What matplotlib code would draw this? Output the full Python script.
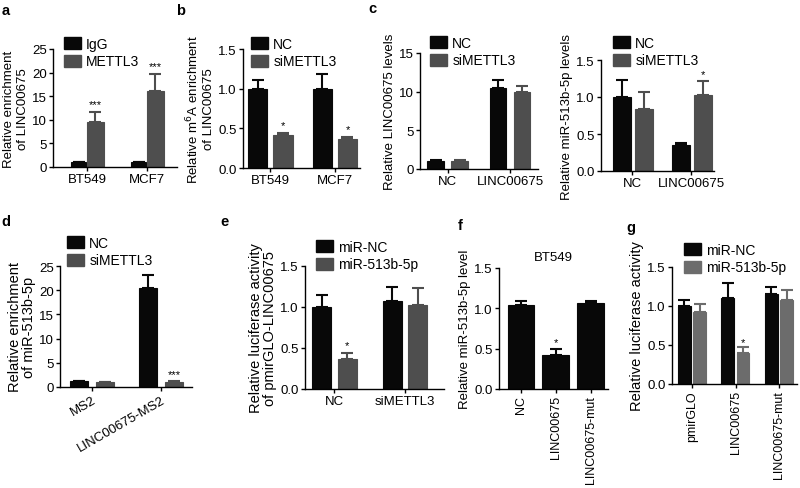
import numpy as np
import matplotlib.pyplot as plt

plt.rcParams['font.family'] = ['Liberation Sans', 'DejaVu Sans']

W, H = 800, 489
BLACK = '#080808'
GRAY = '#4e4e4e'
LGRAY = '#6c6c6c'

# ---------------- data ----------------
a_groups = ['BT549', 'MCF7']
a_igg = [1.0, 1.05]
a_igg_err = [0.1, 0.1]
a_mettl3 = [9.6, 16.2]
a_mettl3_err = [2.0, 3.5]

b_groups = ['BT549', 'MCF7']
b_nc = [1.0, 1.0]
b_nc_err = [0.11, 0.18]
b_si = [0.41, 0.36]
b_si_err = [0.03, 0.03]

c1_groups = ['NC', 'LINC00675']
c1_nc = [1.0, 10.5]
c1_nc_err = [0.15, 1.0]
c1_si = [1.05, 9.9]
c1_si_err = [0.05, 0.8]

c2_groups = ['NC', 'LINC00675']
c2_nc = [1.0, 0.35]
c2_nc_err = [0.23, 0.03]
c2_si = [0.84, 1.03]
c2_si_err = [0.23, 0.18]

d_groups = ['MS2', 'LINC00675-MS2']
d_nc = [1.2, 20.4]
d_nc_err = [0.08, 2.7]
d_si = [1.0, 1.1]
d_si_err = [0.05, 0.1]

e_groups = ['NC', 'siMETTL3']
e_minc = [1.0, 1.07]
e_minc_err = [0.15, 0.18]
e_mir = [0.37, 1.02]
e_mir_err = [0.07, 0.21]

f_groups = ['NC', 'LINC00675', 'LINC00675-mut']
f_vals = [1.04, 0.42, 1.07]
f_err = [0.05, 0.08, 0.02]

g_groups = ['pmirGLO', 'LINC00675', 'LINC00675-mut']
g_minc = [1.0, 1.1, 1.15]
g_minc_err = [0.08, 0.2, 0.1]
g_mir = [0.92, 0.4, 1.08]
g_mir_err = [0.1, 0.07, 0.12]

fig = plt.figure(figsize=(W / 100, H / 100), dpi=100)


def make_ax(l, r, t, b, ylim, yticks, xlim):
    ax = fig.add_axes([l / W, 1 - b / H, (r - l) / W, (b - t) / H])
    ax.set_ylim(*ylim)
    ax.set_yticks(yticks)
    ax.set_xlim(*xlim)
    for s in ['top', 'right']:
        ax.spines[s].set_visible(False)
    for s in ['left', 'bottom']:
        ax.spines[s].set_linewidth(1.0)
    ax.tick_params(direction='out', length=3, width=1.0, labelsize=9.5, pad=1.5)
    return ax


def bars(ax, x, vals, errs, color, width):
    ax.bar(x, vals, width=width, color=color, edgecolor=color, linewidth=0.8)
    ax.errorbar(x, vals, yerr=[np.zeros(len(vals)), errs], fmt='none',
                ecolor=color, elinewidth=1.5, capsize=4, capthick=1.5)


def stars(ax, x, top, text, dy):
    ax.text(x, top + dy, text, ha='center', va='bottom', fontsize=8)


def legend(ax, labels, colors, px, py, fs=10):
    handles = [plt.Rectangle((0, 0), 1, 1, color=c) for c in colors]
    ax.legend(handles, labels, loc='upper left', bbox_to_anchor=(px / W, 1 - py / H),
              bbox_transform=fig.transFigure, frameon=False, fontsize=fs,
              borderpad=0, borderaxespad=0, handlelength=1.2, handleheight=1.0,
              handletextpad=0.4, labelspacing=0.25)


def panel_label(s, px, py):
    fig.text(px / W, 1 - py / H, s, fontsize=10.5, fontweight='bold', ha='center', va='center')


# ---------------- a ----------------
ax = make_ax(53, 177, 50, 168, (0, 25), [0, 5, 10, 15, 20, 25], (-0.567, 1.5))
x = np.arange(2)
bars(ax, x - 0.14, a_igg, a_igg_err, BLACK, 0.25)
bars(ax, x + 0.14, a_mettl3, a_mettl3_err, GRAY, 0.28)
for i in range(2):
    stars(ax, x[i] + 0.14, a_mettl3[i] + a_mettl3_err[i], '***', 0.6)
ax.set_xticks(x)
ax.set_xticklabels(a_groups)
ax.set_ylabel('Relative enrichment\nof LINC00675', fontsize=9.5, labelpad=2, linespacing=1.2)
legend(ax, ['IgG', 'METTL3'], [BLACK, GRAY], 64, 38, fs=10)

# ---------------- b ----------------
ax = make_ax(243, 360, 50, 169, (0, 1.5), [0.0, 0.5, 1.0, 1.5], (-0.426, 1.388))
ax.set_yticklabels(['0.0', '0.5', '1.0', '1.5'])
x = np.arange(2)
bars(ax, x - 0.194, b_nc, b_nc_err, BLACK, 0.295)
bars(ax, x + 0.194, b_si, b_si_err, GRAY, 0.295)
for i in range(2):
    stars(ax, x[i] + 0.194, b_si[i] + b_si_err[i], '*', 0.04)
ax.set_xticks(x)
ax.set_xticklabels(b_groups)
ax.set_ylabel('Relative m$^6$A enrichment\nof LINC00675', fontsize=9.5, labelpad=2, linespacing=1.2)
legend(ax, ['NC', 'siMETTL3'], [BLACK, GRAY], 251, 38)

# ---------------- c left ----------------
ax = make_ax(420, 538, 54, 170, (0, 15), [0, 5, 10, 15], (-0.44, 1.448))
x = np.arange(2)
bars(ax, x - 0.192, c1_nc, c1_nc_err, BLACK, 0.27)
bars(ax, x + 0.192, c1_si, c1_si_err, GRAY, 0.27)
ax.set_xticks(x)
ax.set_xticklabels(c1_groups)
ax.set_ylabel('Relative LINC00675 levels', fontsize=9.5, labelpad=2)
legend(ax, ['NC', 'siMETTL3'], [BLACK, GRAY], 430, 37)

# ---------------- c right ----------------
ax = make_ax(601, 714, 61, 172, (0, 1.5), [0.0, 0.5, 1.0, 1.5], (-0.525, 1.39))
ax.set_yticklabels(['0.0', '0.5', '1.0', '1.5'])
x = np.arange(2)
bars(ax, x - 0.17, c2_nc, c2_nc_err, BLACK, 0.3)
bars(ax, x + 0.2, c2_si, c2_si_err, GRAY, 0.3)
stars(ax, x[1] + 0.2, c2_si[1] + c2_si_err[1], '*', 0.03)
ax.set_xticks(x)
ax.set_xticklabels(c2_groups)
ax.set_ylabel('Relative miR-513b-5p levels', fontsize=9.5, labelpad=2)
legend(ax, ['NC', 'siMETTL3'], [BLACK, GRAY], 613, 37)

# ---------------- d ----------------
ax = make_ax(60, 192, 267, 388, (0, 25), [0, 5, 10, 15, 20, 25], (-0.46, 1.44))
x = np.arange(2)
bars(ax, x - 0.187, d_nc, d_nc_err, BLACK, 0.26)
bars(ax, x + 0.187, d_si, d_si_err, GRAY, 0.26)
stars(ax, x[1] + 0.187, d_si[1] + d_si_err[1], '***', 0.4)
ax.set_xticks(x)
ax.set_xticklabels(d_groups, rotation=30, ha='right', rotation_mode='anchor')
ax.set_ylabel('Relative enrichment\nof miR-513b-5p', fontsize=10.5, labelpad=2, linespacing=1.0)
legend(ax, ['NC', 'siMETTL3'], [BLACK, GRAY], 67, 237)

# ---------------- e ----------------
ax = make_ax(305, 444, 267, 390, (0, 1.5), [0.0, 0.5, 1.0, 1.5], (-0.418, 1.553))
ax.set_yticklabels(['0.0', '0.5', '1.0', '1.5'])
x = np.arange(2)
bars(ax, x - 0.184, e_minc, e_minc_err, BLACK, 0.27)
bars(ax, x + 0.184, e_mir, e_mir_err, GRAY, 0.27)
stars(ax, x[0] + 0.184, e_mir[0] + e_mir_err[0], '*', 0.03)
ax.set_xticks(x)
ax.set_xticklabels(e_groups)
ax.set_ylabel('Relative luciferase activity\nof pmirGLO-LINC00675', fontsize=10.5, labelpad=2, linespacing=1.0)
legend(ax, ['miR-NC', 'miR-513b-5p'], [BLACK, GRAY], 316, 241)

# ---------------- f ----------------
ax = make_ax(499, 608, 269, 390, (0, 1.5), [0.0, 0.5, 1.0, 1.5], (-0.63, 2.49))
ax.set_yticklabels(['0.0', '0.5', '1.0', '1.5'])
x = np.arange(3)
bars(ax, x, f_vals, f_err, BLACK, 0.77)
stars(ax, x[1], f_vals[1] + f_err[1], '*', 0.02)
ax.set_xticks(x)
ax.set_xticklabels(f_groups, rotation=90)
ax.tick_params(axis='x', labelsize=9)
ax.set_ylabel('Relative miR-513b-5p level', fontsize=9.5, labelpad=2)
ax.set_title('BT549', fontsize=9.5, pad=6)

# ---------------- g ----------------
ax = make_ax(672, 797, 268, 385, (0, 1.5), [0.0, 0.5, 1.0, 1.5], (-0.47, 2.41))
ax.set_yticklabels(['0.0', '0.5', '1.0', '1.5'])
x = np.arange(3)
bars(ax, x - 0.185, g_minc, g_minc_err, BLACK, 0.3)
bars(ax, x + 0.17, g_mir, g_mir_err, LGRAY, 0.29)
stars(ax, x[1] + 0.17, g_mir[1] + g_mir_err[1], '*', 0.0)
ax.set_xticks(x)
ax.set_xticklabels(g_groups, rotation=90)
ax.tick_params(axis='x', labelsize=9)
ax.set_ylabel('Relative luciferase activity', fontsize=10.5, labelpad=2)
legend(ax, ['miR-NC', 'miR-513b-5p'], [BLACK, LGRAY], 684, 244)

for s, px, py in [('a', 6, 11), ('b', 181, 11), ('c', 372, 9), ('d', 6, 222),
                  ('e', 224, 222), ('f', 460, 226), ('g', 631, 228)]:
    panel_label(s, px, py)

fig.savefig('out.png', dpi=100)
